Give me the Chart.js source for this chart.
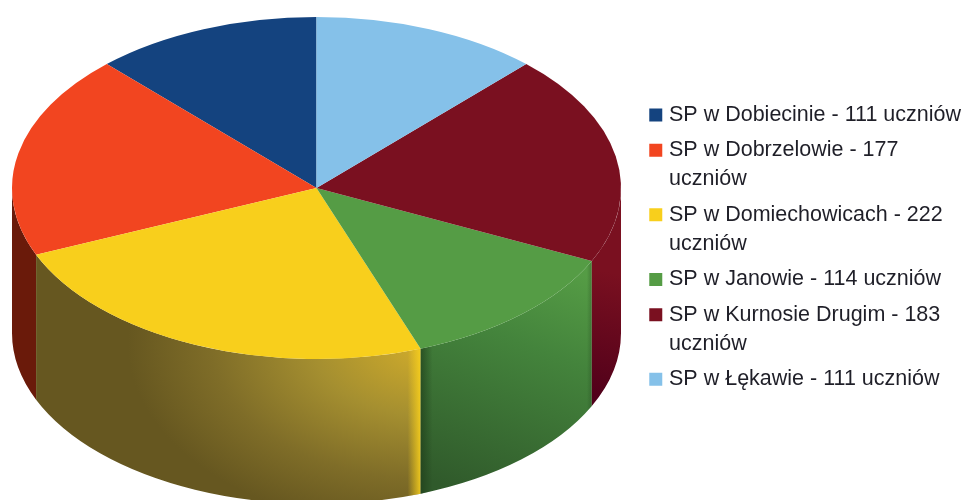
<!DOCTYPE html>
<html>
<head>
<meta charset="utf-8">
<style>
html,body{margin:0;padding:0;background:#fff}
#wrap{width:964px;height:500px;position:relative;overflow:hidden}
canvas{filter:blur(0.5px)}
</style>
<script src="https://cdn.jsdelivr.net/npm/chart.js@4"></script>
</head>
<body>
<div id="wrap"><canvas id="c" width="964" height="500"></canvas></div>
<script>
const categoryLines = [
  ["SP w Dobiecinie - 111 uczniów"],
  ["SP w Dobrzelowie - 177", "uczniów"],
  ["SP w Domiechowicach - 222", "uczniów"],
  ["SP w Janowie - 114 uczniów"],
  ["SP w Kurnosie Drugim - 183", "uczniów"],
  ["SP w Łękawie - 111 uczniów"]
];
const values = [111, 177, 222, 114, 183, 111];
const topColors = ["#14437f", "#f24520", "#f8cf1c", "#559c45", "#7a1020", "#85c1e9"];

// Projection of the flat pie onto the tilted disc
const disc = { cx: 316.5, cy: 188, rx: 304.5, ry: 171, depth: 145 };

function paintWall(ctx, i) {
  if (i === 2) {
    ctx.translate(428, 345);
    ctx.scale(1, 0.62);
    const g = ctx.createRadialGradient(0, 0, 0, 0, 0, 300);
    g.addColorStop(0, "#d2ad2b");
    g.addColorStop(0.38, "#a58f30");
    g.addColorStop(0.72, "#7f6d28");
    g.addColorStop(1, "#665720");
    ctx.fillStyle = g;
    ctx.fillRect(-1200, -1200, 2400, 2400);
    ctx.setTransform(1, 0, 0, 1, 0, 0);
    return;
  }
  if (i === 3) {
    const g = ctx.createLinearGradient(560, 265, 470, 495);
    g.addColorStop(0, "#559c45");
    g.addColorStop(0.35, "#44843c");
    g.addColorStop(1, "#305a2b");
    ctx.fillStyle = g;
  } else if (i === 4) {
    const g = ctx.createLinearGradient(622, 275, 595, 400);
    g.addColorStop(0, "#7a1020");
    g.addColorStop(1, "#50001a");
    ctx.fillStyle = g;
  } else {
    ctx.fillStyle = "#6a1a0a";
  }
  ctx.fillRect(0, 0, 964, 500);
}

function wallEdges(ctx, i, x0, x1) {
  const band = (from, to, c0, c1) => {
    const g = ctx.createLinearGradient(from, 0, to, 0);
    g.addColorStop(0, c0);
    g.addColorStop(1, c1);
    ctx.fillStyle = g;
    ctx.fillRect(Math.min(from, to), 0, Math.abs(to - from), 500);
  };
  if (i === 2) band(x1 - 13, x1, "rgba(248,207,28,0)", "rgba(248,207,28,0.9)");
  if (i === 3) {
    band(x0, x0 + 12, "rgba(30,60,25,0.65)", "rgba(30,60,25,0)");
    band(x1 - 5, x1, "rgba(30,60,25,0)", "rgba(30,60,25,0.3)");
  }
}

const discPlugin = {
  id: "disc",
  beforeDatasetsDraw(chart) {
    const ctx = chart.ctx;
    const arcs = chart.getDatasetMeta(0).data;
    const first = arcs[0];
    const sx = disc.rx / first.outerRadius, sy = disc.ry / first.outerRadius;
    const toScreenX = a => disc.cx - Math.cos(a) * disc.rx;
    // Front half of the rim, from the library's own arc angles
    arcs.forEach((arc, i) => {
      const a = Math.max(arc.startAngle, 0), b = Math.min(arc.endAngle, Math.PI);
      if (b <= a) return;
      ctx.save();
      ctx.beginPath();
      ctx.translate(disc.cx, disc.cy);
      ctx.scale(-sx, sy);
      ctx.arc(0, 0, first.outerRadius, a, b);
      ctx.translate(0, disc.depth / sy);
      ctx.arc(0, 0, first.outerRadius, b, a, true);
      ctx.closePath();
      ctx.setTransform(1, 0, 0, 1, 0, 0);
      ctx.clip();
      paintWall(ctx, i);
      wallEdges(ctx, i, toScreenX(a), toScreenX(b));
      ctx.restore();
    });
    ctx.save();
    ctx.translate(disc.cx, disc.cy);
    ctx.scale(-sx, sy);
    ctx.translate(-first.x, -first.y);
  },
  afterDatasetsDraw(chart) {
    chart.ctx.restore();
  }
};

new Chart(document.getElementById("c"), {
  type: "pie",
  data: {
    labels: categoryLines,
    datasets: [{ data: values, backgroundColor: topColors, borderWidth: 0, hoverOffset: 0 }]
  },
  plugins: [discPlugin],
  options: {
    responsive: false,
    animation: false,
    events: [],
    layout: { padding: { right: -7, top: 2, bottom: 0 } },
    plugins: {
      tooltip: { enabled: false },
      legend: {
        position: "right",
        align: "center",
        labels: {
          boxWidth: 5,
          boxHeight: 5,
          padding: 6,
          color: "#1f1f28",
          font: { family: "'Liberation Sans', Arial, sans-serif", size: 21.5, lineHeight: 1.363 },
          generateLabels(chart) {
            return Chart.overrides.doughnut.plugins.legend.labels.generateLabels(chart).map(item => ({
              ...item, strokeStyle: item.fillStyle, lineWidth: 8
            }));
          }
        }
      }
    }
  }
});
</script>
</body>
</html>
